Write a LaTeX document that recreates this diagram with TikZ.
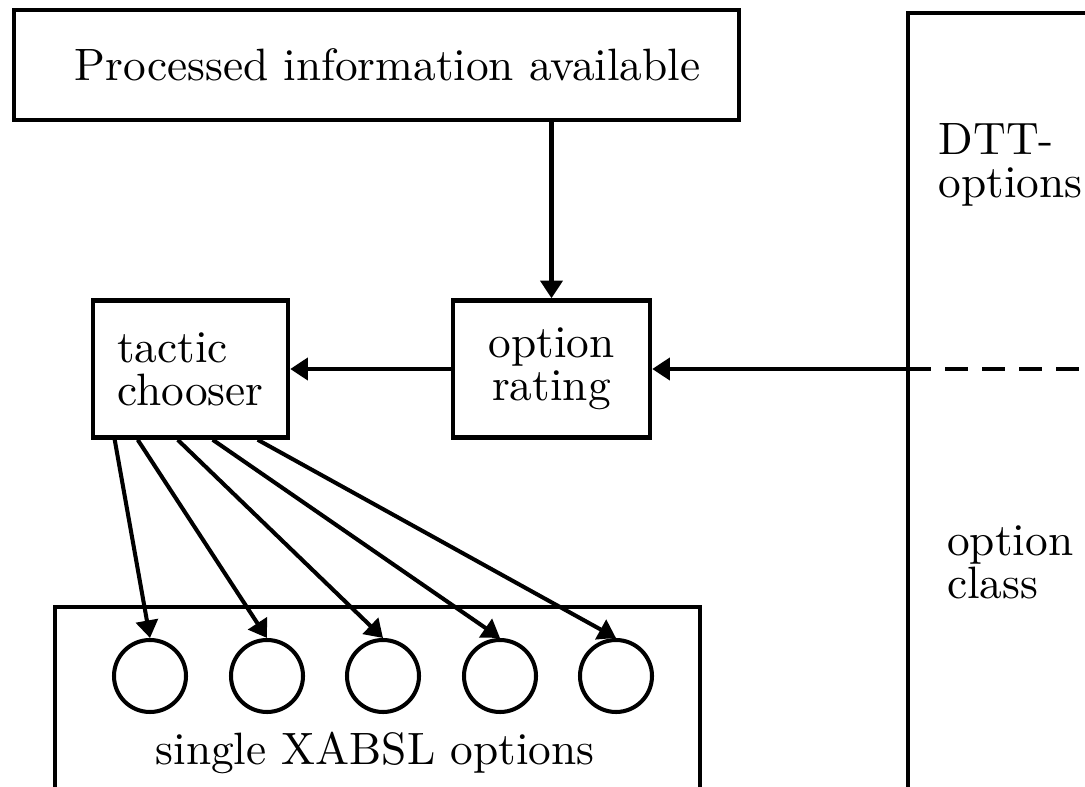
\documentclass[tikz,border=0pt]{standalone}
\usepackage{tikz}
\usetikzlibrary{arrows.meta}
\font\diagfont="[lmroman10-regular]" at 25.8pt

\begin{document}
\begin{tikzpicture}[
    font={\diagfont\baselineskip=24.5pt},
    >={Triangle[length=10pt,width=12.5pt]},
    box/.style={draw, line width=2.6pt, inner sep=0pt},
    arr/.style={->, line width=2.3pt},
    opt/.style={draw, circle, line width=2.3pt, minimum size=1.44cm}
]
    \useasboundingbox (0,0) rectangle (21.7,-15.74);
    \clip (0,0) rectangle (21.7,-15.74);

    % Top box: incoming information
    \node[box, minimum width=14.5cm, minimum height=2.2cm] (info) at (7.53,-1.3) {\hspace*{0.44cm}Processed information available};

    % Middle row: chooser and rating
    \node[box, minimum width=3.9cm, minimum height=2.74cm, align=left] (chooser) at (3.81,-7.38) {tactic\\chooser};
    \node[box, minimum width=3.94cm, minimum height=2.74cm, align=center] (rating) at (11.03,-7.38) {option\\rating};

    % Right box: option class, runs off the page
    \draw[line width=2.6pt] (22.5,-0.26) -- (18.16,-0.26) -- (18.16,-16.5);
    \coordinate (cls) at (18.16,-7.38);
    \coordinate (clsend) at (22.2,-7.38);
    \node[anchor=west, align=left] (dtt) at (18.65,-3.3) {DTT-\\options};
    \node[anchor=west, align=left] (optclass) at (18.82,-11.25) {option\\class};

    % Bottom box: single options
    \draw[line width=2.6pt] (1.1,-16.5) -- (1.1,-12.14) -- (14.0,-12.14) -- (14.0,-16.5);
    \node (xabsl) at (7.5,-15.05) {single XABSL options};
    \foreach \i/\x in {1/3.0, 2/5.34, 3/7.66, 4/10.0, 5/12.32}
        \node[opt] (c\i) at (\x,-13.52) {};

    % Connectors
    \draw[arr] (rating.north |- info.south) -- (rating.north);
    \draw[arr] (rating.west) -- (chooser.east);
    \draw[arr] (cls) -- (rating.east);
    \draw[line width=2.3pt, dash pattern=on 0.46cm off 0.28cm] (cls) -- (clsend);
    \foreach \i/\dx in {1/0.48, 2/0.94, 3/1.74, 4/2.44, 5/3.34}
        \draw[arr] ([xshift=\dx cm]chooser.south west) -- (c\i.north);
\end{tikzpicture}
\end{document}
